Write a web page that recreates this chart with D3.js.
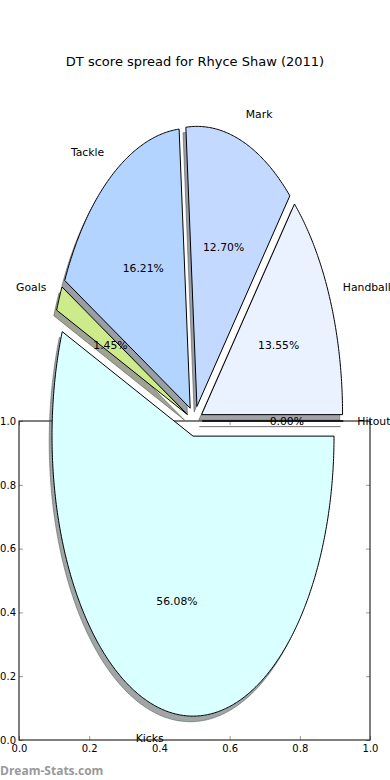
<!DOCTYPE html>
<html>
<head>
<meta charset="utf-8">
<script src="https://d3js.org/d3.v7.min.js"></script>
<style>
  body { margin: 0; background: #fff; }
  text { font-family: "DejaVu Sans", sans-serif; }
  .tick line { stroke: #999; }
  .domain { stroke: none; }
</style>
</head>
<body>
<svg id="chart" width="390" height="780"></svg>
<script>
// values are the DT score shares in percent, order = counter-clockwise from 3 o'clock
var categories = ["Handball", "Mark", "Tackle", "Goals", "Kicks", "Hitout"];
var values = [13.55, 12.70, 16.21, 1.45, 56.08, 0.00];
var colors = ["#eaf1ff", "#c4d9ff", "#b3d4ff", "#cdeb8b", "#d9ffff", "#ffffff"];
var axisTicks = [0, 0.2, 0.4, 0.6, 0.8, 1.0];

var svg = d3.select("#chart");
var W = 390, H = 780;

// background axes (0..1 frame behind the pie)
var ax = d3.scaleLinear().domain([0, 1]).range([19, 370]);
var ay = d3.scaleLinear().domain([0, 1]).range([740, 421]);

var frame = svg.append("g");
frame.append("g").attr("transform", "translate(0,740)")
  .call(d3.axisBottom(ax).tickValues(axisTicks).tickSizeInner(-4).tickSizeOuter(0).tickPadding(5).tickFormat(d3.format(".1f")));
frame.append("g").attr("transform", "translate(19,0)")
  .call(d3.axisLeft(ay).tickValues(axisTicks).tickSizeInner(-4).tickSizeOuter(0).tickPadding(3).tickFormat(d3.format(".1f")));
frame.append("g").attr("transform", "translate(0,421)")
  .call(d3.axisTop(ax).tickValues(axisTicks).tickSizeInner(-4).tickSizeOuter(0).tickFormat(""));
frame.append("g").attr("transform", "translate(370,0)")
  .call(d3.axisRight(ay).tickValues(axisTicks).tickSizeInner(-4).tickSizeOuter(0).tickFormat(""));
frame.selectAll(".tick text").attr("font-size", 10).attr("fill", "#000")
  .style("font-family", "DejaVu Sans");
frame.append("rect").attr("x", ax(0)).attr("y", ay(1))
  .attr("width", ax(1) - ax(0)).attr("height", ay(0) - ay(1))
  .attr("fill", "none").attr("stroke", "#000").attr("stroke-width", 1);

// pie axes: unit circle in data coords, stretched by the axes
var cx = 194.5, cy = 421;
var px = d3.scaleLinear().domain([-1, 1]).range([cx - 141, cx + 141]);
var py = d3.scaleLinear().domain([-1, 1]).range([cy + 280, cy - 280]);
var explode = 0.055, shadowOff = 0.02;

var arcs = d3.pie().sort(null).value(function(d) { return d; })
  .startAngle(0).endAngle(2 * Math.PI)(values);

function wedgePath(a, ox, oy) {
  var pts = [[px(ox), py(oy)]];
  var n = Math.max(2, Math.ceil((a.endAngle - a.startAngle) / 0.01));
  for (var i = 0; i <= n; i++) {
    var t = a.startAngle + (a.endAngle - a.startAngle) * i / n;
    pts.push([px(ox + Math.cos(t)), py(oy + Math.sin(t))]);
  }
  return "M" + pts.map(function(p) { return p[0].toFixed(2) + "," + p[1].toFixed(2); }).join("L") + "Z";
}

arcs.forEach(function(a, i) {
  var mid = (a.startAngle + a.endAngle) / 2;
  a.ox = explode * Math.cos(mid);
  a.oy = explode * Math.sin(mid);
  a.mid = mid;
  a.i = i;
});

var pie = svg.append("g");
// shadows
pie.selectAll(".shadow").data(arcs).enter().append("path")
  .attr("class", "shadow")
  .attr("d", function(a) { return wedgePath(a, a.ox - shadowOff, a.oy - shadowOff); })
  .attr("fill", function(a) { var c = d3.rgb(colors[a.i]); return d3.rgb(c.r * 0.3, c.g * 0.3, c.b * 0.3); })
  .attr("fill-opacity", 0.5)
  .attr("stroke", function(a) { var c = d3.rgb(colors[a.i]); return d3.rgb(c.r * 0.3, c.g * 0.3, c.b * 0.3); })
  .attr("stroke-opacity", 0.5)
  .attr("stroke-width", 1);
// wedges
pie.selectAll(".wedge").data(arcs).enter().append("path")
  .attr("class", "wedge")
  .attr("d", function(a) { return wedgePath(a, a.ox, a.oy); })
  .attr("fill", function(a) { return colors[a.i]; })
  .attr("stroke", "#000")
  .attr("stroke-width", 1)
  .attr("stroke-linejoin", "round");

// labels at 1.1 radius
pie.selectAll(".label").data(arcs).enter().append("text")
  .attr("x", function(a) { return px(a.ox + 1.1 * Math.cos(a.mid)); })
  .attr("y", function(a) { return py(a.oy + 1.1 * Math.sin(a.mid)); })
  .attr("dy", "0.35em")
  .attr("text-anchor", function(a) { return Math.cos(a.mid) > 0 ? "start" : "end"; })
  .attr("font-size", 10.8)
  .text(function(a) { return categories[a.i]; });

// percentages at 0.6 radius
pie.selectAll(".pct").data(arcs).enter().append("text")
  .attr("x", function(a) { return px(a.ox + 0.6 * Math.cos(a.mid)); })
  .attr("y", function(a) { return py(a.oy + 0.6 * Math.sin(a.mid)); })
  .attr("dy", "0.35em")
  .attr("text-anchor", "middle")
  .attr("font-size", 10.8)
  .text(function(a) { return d3.format(".2f")(a.data) + "%"; });

// title
svg.append("text").attr("x", W / 2).attr("y", 61).attr("dy", "0.35em")
  .attr("text-anchor", "middle").attr("font-size", 13)
  .text("DT score spread for Rhyce Shaw (2011)");

// watermark
svg.append("text").attr("x", 0).attr("y", 775)
  .attr("font-size", 12).attr("font-weight", "bold").attr("fill", "#999")
  .style("font-family", "'Open Sans', sans-serif")
  .text("Dream-Stats.com");
</script>
</body>
</html>
